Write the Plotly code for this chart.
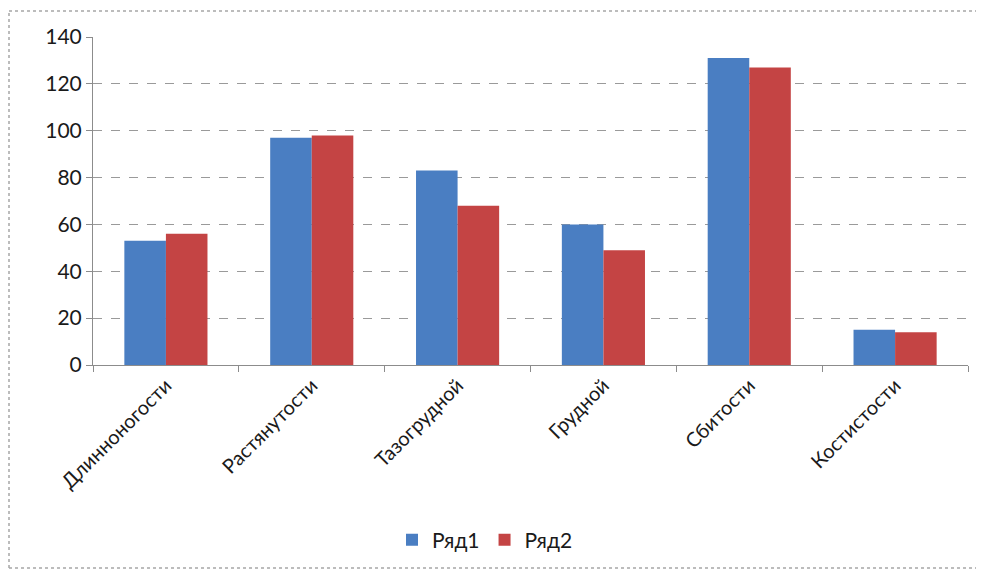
import plotly.graph_objects as go

categories = ["Длинноногости", "Растянутости", "Тазогрудной", "Грудной", "Сбитости", "Костистости"]
series1_name = "Ряд1"
series2_name = "Ряд2"
series1 = [53, 97, 83, 60, 131, 15]
series2 = [56, 98, 68, 49, 127, 14]
y_ticks = [0, 20, 40, 60, 80, 100, 120, 140]

FONT = "Lato, 'Open Sans', sans-serif"

fig = go.Figure()
fig.add_trace(go.Bar(x=categories, y=series1, name=series1_name,
                     marker=dict(color="#4a7ec2", line=dict(width=0))))
fig.add_trace(go.Bar(x=categories, y=series2, name=series2_name,
                     marker=dict(color="#c44444", line=dict(width=0))))

border = dict(color="#a6a6a6", width=1.5, dash="dot")
fig.update_layout(
    width=976, height=562,
    margin=dict(l=85, r=16, t=29, b=205, autoexpand=False),
    paper_bgcolor="white", plot_bgcolor="white",
    barmode="group", bargap=0.43, bargroupgap=0,
    font=dict(family=FONT, color="#1a1a1a", size=20),
    showlegend=True,
    legend=dict(orientation="h", x=0.448, xanchor="center", y=-0.534, yanchor="middle",
                font=dict(size=21, color="#1a1a1a"), itemwidth=30,
                traceorder="normal"),
    xaxis=dict(
        automargin=False,
        tickangle=-45, tickfont=dict(size=20),
        showline=True, linecolor="#8c8c8c", linewidth=1,
        ticks="outside", tickson="boundaries", ticklen=6, tickcolor="#8c8c8c",
        showgrid=False,
    ),
    yaxis=dict(
        automargin=False,
        range=[0, 140], tickvals=y_ticks, tickfont=dict(size=21),
        showline=True, linecolor="#8c8c8c", linewidth=1,
        ticks="outside", ticklen=6, tickcolor="#8c8c8c",
        showgrid=True, gridcolor="#9a9a9a", gridwidth=1, griddash="dash",
        zeroline=False,
    ),
    shapes=[
        dict(type="line", xref="paper", yref="paper", x0=-0.096, x1=-0.096, y0=-0.619, y1=1.079, line=border),
        dict(type="line", xref="paper", yref="paper", x0=-0.096, x1=1.05, y0=1.079, y1=1.079, line=border),
        dict(type="line", xref="paper", yref="paper", x0=-0.096, x1=1.05, y0=-0.619, y1=-0.619, line=border),
    ],
)

fig.write_html("out.html")
